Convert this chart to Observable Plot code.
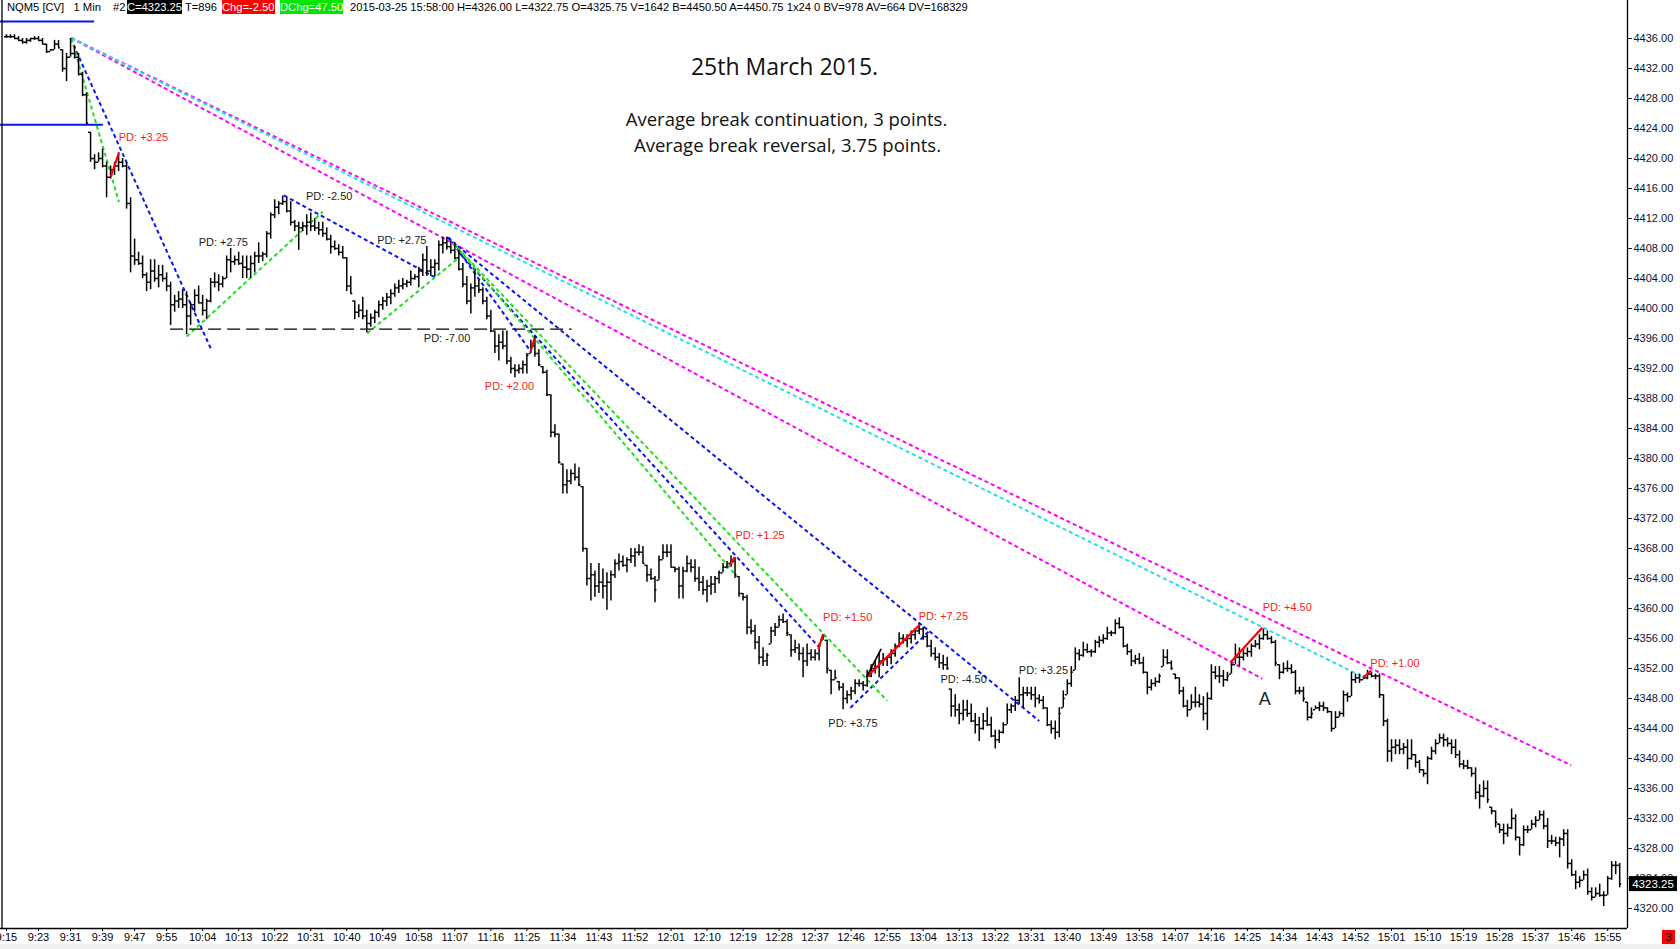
<!DOCTYPE html>
<html>
<head>
<meta charset="utf-8">
<script src="https://cdn.jsdelivr.net/npm/d3@7"></script>
<script src="https://cdn.jsdelivr.net/npm/@observablehq/plot@0.6"></script>
<style>
  html, body { margin: 0; padding: 0; background: #fff; }
  body { width: 1680px; height: 949px; overflow: hidden; position: relative; font-family: "Liberation Sans", Arial, sans-serif; }
  #chart { position: absolute; left: 0; top: 0; }
  #header { position: absolute; left: 0; top: 0; width: 1626px; height: 14px; font-size: 11.2px; line-height: 14px; color: #000; white-space: nowrap; }
  #header span { position: absolute; top: 0; height: 14px; }
  .blk { background: #000; color: #fff; }
  .red { background: #ff0000; color: #fff; }
  .grn { background: #00e600; color: #fff; }
  #strip { position: absolute; left: 0; top: 944px; width: 1680px; height: 5px; background: #f0f0f0; }
  #redbox { position: absolute; left: 1662px; top: 930px; width: 13px; height: 14px; background: #ff0000; color: #111; font-size: 11px; line-height: 14px; text-align: center; }
</style>
</head>
<body>
<div id="chart"></div>
<div id="header"></div>
<div id="strip"></div>
<div id="redbox">3</div>
<script>
// ---------- header texts ----------
const headerSymbol = "NQM5 [CV]\u00a0\u00a0 1 Min";
const headerBar = "#2";
const headerClose = "C=4323.25";
const headerTicks = "T=896";
const headerChg = "Chg=-2.50";
const headerDChg = "DChg=47.50";
const headerRest = "2015-03-25 15:58:00 H=4326.00 L=4322.75 O=4325.75 V=1642 B=4450.50 A=4450.75 1x24 0 BV=978 AV=664 DV=168329";

// ---------- titles ----------
const titleText = "25th March 2015.";
const subtitleLines = ["Average break continuation, 3 points.", "Average break reversal, 3.75 points."];

// ---------- axes ----------
const tickTimes = ["9:15","9:23","9:31","9:39","9:47","9:55","10:04","10:13","10:22","10:31","10:40","10:49","10:58","11:07","11:16","11:25","11:34","11:43","11:52","12:01","12:10","12:19","12:28","12:37","12:46","12:55","13:04","13:13","13:22","13:31","13:40","13:49","13:58","14:07","14:16","14:25","14:34","14:43","14:52","15:01","15:10","15:19","15:28","15:37","15:46","15:55"];
const priceTicks = [4320,4324,4328,4332,4336,4340,4344,4348,4352,4356,4360,4364,4368,4372,4376,4380,4384,4388,4392,4396,4400,4404,4408,4412,4416,4420,4424,4428,4432,4436];

// ---------- 1-minute OHLC bars, from 9:15 (index 0) to 15:58 ----------
const high = [
4436.5,4436.5,4436.5,4436.25,4436.0,4436.0,4436.0,4436.25,4436.25,4436.0,
4435.25,4434.5,4435.75,4435.75,4434.5,4434.0,4436.0,4435.0,4434.0,4431.5,
4428.75,4423.5,4420.5,4420.75,4421.25,4419.5,4419.0,4419.5,4420.75,4420.0,
4419.5,4414.75,4409.25,4407.5,4407.0,4404.75,4406.5,4406.5,4405.75,4405.75,
4404.75,4403.5,4401.75,4402.25,4402.5,4402.25,4400.75,4402.5,4403.0,4401.75,
4401.25,4404.0,4404.75,4404.5,4404.25,4407.0,4408.0,4407.0,4407.5,4407.0,
4407.0,4407.0,4407.5,4408.75,4407.5,4410.25,4412.75,4414.5,4414.25,4415.0,
4414.75,4414.25,4411.75,4411.5,4411.5,4412.5,4412.75,4412.0,4411.5,4411.5,
4410.75,4409.75,4409.0,4408.5,4408.25,4406.75,4404.25,4401.0,4400.5,4401.5,
4399.75,4399.25,4399.75,4401.0,4401.5,4402.0,4402.5,4403.25,4403.75,4404.0,
4403.75,4405.0,4404.5,4405.5,4407.25,4408.25,4406.5,4406.5,4409.0,4409.5,
4409.5,4409.0,4408.75,4407.75,4406.0,4404.25,4403.25,4405.0,4403.75,4402.75,
4401.5,4399.75,4397.0,4396.5,4397.0,4397.0,4393.5,4392.5,4392.5,4393.0,
4394.0,4395.75,4396.25,4394.5,4392.25,4391.75,4388.5,4384.5,4383.25,4379.25,
4378.5,4378.5,4379.25,4378.75,4376.25,4368.0,4366.0,4365.0,4366.0,4365.25,
4364.75,4365.0,4366.5,4367.25,4367.0,4366.75,4368.0,4368.0,4368.5,4368.25,
4365.75,4365.25,4364.25,4367.0,4368.5,4368.5,4368.5,4365.5,4365.5,4365.5,
4367.0,4366.5,4366.5,4365.5,4364.25,4363.75,4364.25,4364.25,4365.0,4366.0,
4366.25,4367.0,4366.75,4364.25,4362.0,4361.75,4358.5,4357.75,4356.25,4354.75,
4354.0,4357.5,4358.0,4359.0,4359.25,4358.5,4356.5,4355.75,4355.25,4354.75,
4355.25,4354.5,4354.5,4355.25,4356.5,4355.75,4351.75,4351.75,4350.25,4350.0,
4349.0,4349.5,4350.5,4350.5,4350.25,4351.75,4352.5,4353.0,4354.0,4354.0,
4353.5,4354.5,4355.25,4356.75,4356.5,4356.5,4357.0,4357.25,4358.0,4357.5,
4356.5,4355.75,4354.75,4354.0,4353.75,4353.5,4349.25,4348.5,4347.25,4347.75,
4347.75,4347.25,4346.0,4345.5,4346.0,4346.75,4345.5,4343.75,4343.75,4344.75,
4347.25,4347.25,4348.25,4350.75,4349.5,4349.5,4349.5,4349.5,4348.5,4348.25,
4346.75,4345.0,4345.0,4346.75,4349.0,4350.5,4352.25,4354.75,4354.5,4355.5,
4355.25,4354.5,4355.75,4356.25,4356.5,4357.5,4357.0,4358.5,4358.75,4357.5,
4355.25,4354.5,4353.75,4354.0,4353.5,4351.5,4350.5,4350.75,4351.25,4354.5,
4354.5,4353.0,4351.25,4350.75,4349.5,4347.75,4348.5,4349.5,4348.5,4348.25,
4348.75,4352.5,4352.25,4352.25,4351.75,4351.5,4353.0,4355.25,4354.75,4354.5,
4354.75,4355.25,4355.75,4356.5,4357.25,4357.0,4356.25,4355.75,4352.5,4352.75,
4353.0,4352.5,4351.75,4349.5,4349.5,4347.5,4346.75,4347.0,4347.5,4347.5,
4346.75,4346.25,4346.25,4346.25,4349.0,4348.75,4351.5,4351.25,4351.25,4351.0,
4351.75,4351.5,4351.25,4351.25,4348.5,4345.25,4342.5,4342.5,4342.5,4342.0,
4342.5,4342.5,4340.5,4339.75,4338.5,4340.25,4341.5,4342.5,4343.25,4343.25,
4342.75,4342.5,4342.5,4341.0,4339.75,4339.75,4338.75,4338.75,4336.5,4337.0,
4337.0,4333.5,4333.0,4331.25,4331.25,4331.25,4333.25,4332.5,4329.5,4331.0,
4331.0,4331.75,4332.25,4333.0,4333.0,4332.0,4329.75,4329.5,4329.5,4330.5,
4330.5,4326.5,4325.0,4324.25,4325.0,4325.25,4322.75,4322.75,4323.25,4322.25,
4324.25,4326.25,4326.25,4326.0
];
const low = [
4436.0,4436.0,4436.0,4435.75,4435.25,4435.25,4435.5,4435.75,4435.75,4435.25,
4434.0,4434.25,4434.5,4434.75,4431.5,4430.25,4433.5,4433.25,4431.0,4428.25,
4424.5,4419.5,4418.5,4419.5,4418.75,4414.75,4417.25,4417.75,4418.25,4418.75,
4413.25,4404.75,4405.75,4405.75,4404.0,4402.25,4402.5,4403.5,4402.75,4403.5,
4402.25,4397.75,4399.5,4400.0,4400.0,4396.5,4397.75,4399.5,4400.75,4399.0,
4398.5,4400.75,4402.75,4402.25,4402.75,4404.0,4404.75,4405.75,4405.75,4404.0,
4404.0,4404.0,4404.75,4406.0,4406.25,4406.75,4409.25,4412.0,4412.5,4413.75,
4412.75,4411.0,4410.25,4407.75,4410.25,4409.75,4410.25,4410.25,4409.75,4409.5,
4409.0,4407.25,4407.75,4407.0,4406.75,4402.25,4402.0,4398.5,4398.75,4398.5,
4396.75,4397.5,4398.0,4398.75,4399.75,4400.25,4400.5,4401.5,4402.0,4402.5,
4402.75,4403.0,4403.75,4402.75,4404.25,4404.25,4404.25,4404.25,4405.0,4407.25,
4407.75,4407.25,4406.5,4405.0,4402.75,4400.5,4399.25,4401.5,4402.0,4400.5,
4398.5,4396.75,4394.0,4393.0,4394.5,4392.5,4391.25,4390.75,4391.25,4391.25,
4391.25,4394.0,4393.5,4392.25,4391.25,4388.25,4382.75,4382.75,4379.25,4375.25,
4375.25,4376.5,4377.0,4376.25,4367.5,4363.0,4361.0,4361.5,4362.0,4361.25,
4359.75,4361.0,4364.0,4365.0,4365.5,4364.75,4366.0,4365.5,4367.0,4366.0,
4363.5,4363.75,4360.75,4363.75,4366.5,4366.75,4365.5,4364.75,4361.25,4361.25,
4364.75,4364.75,4363.5,4362.25,4361.75,4360.75,4361.75,4362.0,4363.25,4364.75,
4365.25,4365.5,4364.0,4361.5,4361.0,4356.5,4356.5,4354.5,4352.5,4352.25,
4352.25,4355.25,4356.25,4357.5,4358.0,4356.25,4353.5,4354.0,4353.0,4350.75,
4352.25,4353.0,4353.0,4353.0,4355.75,4351.25,4348.5,4350.5,4349.0,4346.5,
4347.25,4347.75,4348.5,4349.5,4349.0,4349.5,4350.75,4351.25,4350.75,4352.25,
4352.25,4352.5,4353.5,4354.75,4355.25,4354.75,4355.25,4355.75,4356.5,4355.75,
4354.75,4353.5,4353.0,4352.0,4351.75,4351.75,4345.5,4345.5,4344.5,4345.0,
4345.5,4344.75,4343.25,4342.25,4343.75,4344.25,4342.75,4341.25,4342.0,4343.25,
4344.5,4346.0,4346.25,4347.25,4346.75,4348.25,4347.75,4346.75,4347.25,4346.5,
4344.25,4343.25,4342.5,4342.75,4346.75,4348.5,4349.5,4351.75,4353.0,4353.5,
4354.0,4353.5,4354.0,4354.75,4355.25,4355.75,4356.25,4356.5,4357.25,4354.75,
4353.75,4352.25,4352.5,4352.5,4351.25,4348.5,4349.0,4349.5,4350.0,4352.25,
4352.5,4351.75,4350.5,4348.5,4346.75,4345.5,4346.5,4346.75,4346.75,4345.0,
4343.75,4347.75,4350.5,4350.0,4349.5,4350.25,4351.25,4352.5,4352.25,4353.0,
4353.5,4353.5,4354.75,4354.5,4355.75,4355.75,4355.25,4352.25,4350.5,4351.25,
4351.5,4351.25,4348.5,4348.5,4347.5,4345.0,4345.25,4346.5,4346.25,4346.25,
4346.0,4343.5,4344.0,4345.5,4345.5,4347.5,4348.25,4350.0,4350.0,4350.5,
4350.5,4350.75,4350.5,4348.0,4344.25,4339.5,4339.5,4340.5,4340.5,4340.5,
4338.5,4339.75,4338.75,4338.0,4337.5,4336.5,4339.75,4340.5,4342.0,4341.5,
4341.5,4340.5,4340.0,4338.75,4338.5,4338.5,4337.5,4334.5,4333.25,4334.75,
4334.0,4332.5,4330.75,4330.0,4328.5,4329.5,4330.5,4329.0,4327.0,4328.25,
4330.0,4330.5,4330.75,4331.75,4330.5,4328.0,4328.5,4328.25,4326.75,4328.25,
4325.25,4324.25,4322.5,4322.75,4323.75,4321.75,4321.0,4321.5,4321.5,4320.25,
4321.75,4323.75,4324.5,4322.75
];
const open = [
4436.25,4436.25,4436.25,4436.0,4435.75,4435.5,4435.75,4436.0,4436.0,4435.75,
4435.25,4434.25,4434.5,4435.25,4434.5,4432.0,4433.5,4434.0,4433.5,4431.25,
4428.5,4423.5,4420.0,4419.5,4420.0,4419.0,4417.5,4418.5,4419.0,4419.5,
4419.0,4414.0,4407.0,4406.5,4406.0,4404.5,4403.5,4405.0,4404.0,4404.5,
4404.0,4403.0,4400.5,4401.0,4401.25,4400.5,4399.0,4400.5,4401.75,4400.75,
4399.75,4401.0,4403.5,4403.5,4403.25,4404.0,4406.5,4406.25,4406.5,4406.0,
4405.5,4405.25,4406.0,4407.0,4407.0,4407.25,4410.0,4412.5,4413.5,4414.0,
4414.25,4413.0,4411.5,4411.0,4410.75,4411.0,4411.5,4411.0,4410.75,4410.5,
4410.0,4409.25,4408.25,4408.0,4407.5,4406.75,4403.0,4401.0,4399.5,4399.75,
4399.0,4398.0,4398.75,4399.5,4400.5,4401.0,4401.5,4402.0,4402.75,4403.0,
4403.25,4403.5,4404.0,4404.25,4405.0,4406.5,4405.0,4405.5,4406.0,4408.5,
4408.75,4408.25,4407.75,4406.75,4405.25,4403.25,4401.0,4402.75,4403.0,4402.5,
4401.0,4399.0,4397.0,4395.0,4395.5,4395.0,4393.0,4392.0,4391.75,4392.0,
4392.5,4394.0,4395.0,4394.0,4392.25,4391.5,4388.5,4383.5,4383.25,4379.25,
4376.5,4377.0,4378.0,4377.5,4376.25,4368.0,4364.0,4364.5,4363.0,4363.5,
4363.0,4363.5,4364.5,4366.0,4366.25,4365.75,4366.5,4367.0,4367.5,4367.5,
4365.75,4364.5,4364.0,4363.75,4366.5,4367.5,4367.5,4365.5,4365.25,4363.0,
4365.0,4366.0,4365.5,4364.0,4363.5,4362.5,4363.0,4363.25,4364.0,4364.75,
4365.5,4366.0,4366.25,4364.25,4362.0,4361.5,4357.5,4357.0,4355.5,4353.5,
4353.0,4355.25,4357.0,4357.5,4358.5,4358.25,4356.5,4354.5,4354.75,4354.0,
4353.0,4354.0,4353.5,4354.0,4355.75,4355.75,4351.75,4350.5,4350.25,4349.5,
4348.0,4348.5,4349.0,4350.0,4350.0,4349.75,4351.0,4352.0,4352.25,4353.0,
4353.25,4353.5,4354.0,4355.0,4356.0,4355.75,4356.0,4356.5,4357.0,4357.25,
4356.25,4355.0,4354.0,4353.5,4352.75,4352.5,4349.25,4347.0,4346.5,4346.0,
4346.5,4346.0,4345.0,4344.5,4344.0,4345.0,4344.5,4343.0,4342.5,4343.5,
4344.5,4346.5,4347.0,4347.75,4348.5,4348.75,4348.75,4348.5,4348.0,4347.75,
4346.75,4344.5,4344.0,4343.5,4346.75,4348.5,4350.0,4351.75,4354.0,4353.75,
4354.5,4354.25,4354.25,4355.5,4355.75,4356.0,4356.75,4356.75,4358.0,4357.5,
4355.0,4354.25,4353.0,4353.25,4352.75,4351.5,4349.5,4350.0,4350.25,4352.25,
4353.5,4352.75,4351.25,4350.75,4349.0,4347.0,4346.5,4347.5,4347.5,4347.25,
4346.0,4348.0,4351.5,4351.0,4351.0,4350.5,4351.25,4352.5,4353.5,4353.5,
4354.0,4354.25,4355.0,4355.25,4356.0,4356.5,4356.0,4355.5,4352.5,4351.5,
4352.0,4352.0,4351.5,4349.0,4349.0,4347.5,4345.5,4346.5,4346.75,4347.0,
4346.75,4346.25,4344.0,4345.5,4346.0,4348.5,4348.25,4350.5,4350.75,4350.5,
4350.75,4351.25,4351.0,4351.0,4348.5,4345.0,4341.0,4341.5,4341.75,4341.25,
4341.5,4340.0,4340.5,4339.5,4338.5,4338.0,4340.0,4341.0,4342.0,4342.75,
4342.5,4342.0,4341.5,4340.5,4339.25,4339.0,4338.75,4338.0,4335.5,4335.0,
4336.0,4333.5,4333.0,4331.25,4330.5,4330.0,4330.75,4332.0,4329.5,4328.5,
4330.5,4330.5,4331.25,4331.75,4332.5,4331.0,4329.0,4329.0,4328.75,4329.25,
4330.0,4326.0,4324.5,4323.5,4323.75,4324.5,4322.25,4321.5,4322.0,4321.75,
4321.75,4324.0,4325.75,4325.75
];
const close = [
4436.25,4436.25,4436.0,4435.75,4435.5,4435.75,4436.0,4436.0,4435.75,4435.25,
4434.25,4434.5,4435.25,4434.75,4432.0,4433.5,4434.0,4433.5,4431.25,4428.5,
4424.75,4420.0,4419.5,4420.0,4419.0,4417.5,4418.5,4419.0,4419.5,4419.0,
4414.0,4407.0,4406.5,4406.0,4404.5,4403.5,4405.0,4404.0,4404.5,4404.0,
4403.0,4400.5,4401.0,4401.25,4400.5,4399.0,4400.5,4401.75,4400.75,4399.75,
4401.0,4403.5,4403.5,4403.25,4404.0,4406.5,4406.25,4406.5,4406.0,4405.5,
4405.25,4406.0,4407.0,4407.0,4407.25,4410.0,4412.5,4413.5,4414.0,4414.25,
4413.0,4411.5,4411.0,4410.75,4411.0,4411.5,4411.0,4410.75,4410.5,4410.0,
4409.25,4408.25,4408.0,4407.5,4406.75,4403.0,4402.0,4399.5,4399.75,4399.0,
4398.0,4398.75,4399.5,4400.5,4401.0,4401.5,4402.0,4402.75,4403.0,4403.25,
4403.5,4404.0,4404.25,4405.0,4406.5,4405.0,4405.5,4406.0,4408.5,4408.75,
4408.25,4407.75,4406.75,4405.25,4403.25,4401.0,4402.75,4403.0,4402.5,4401.0,
4399.0,4397.0,4395.0,4395.5,4395.0,4393.0,4392.0,4391.75,4392.0,4392.5,
4393.75,4395.0,4394.0,4392.5,4391.5,4388.5,4383.5,4383.25,4379.5,4376.5,
4377.0,4378.0,4377.5,4376.5,4368.0,4364.0,4364.5,4363.0,4363.5,4363.0,
4363.5,4364.5,4366.0,4366.25,4365.75,4366.5,4367.0,4367.5,4367.5,4366.0,
4364.5,4364.0,4362.5,4366.5,4367.5,4367.5,4365.5,4365.25,4363.0,4365.0,
4366.0,4365.5,4364.0,4363.5,4362.5,4363.0,4363.25,4364.0,4364.75,4365.5,
4366.0,4366.25,4364.5,4362.0,4361.5,4357.5,4357.0,4355.5,4353.5,4353.0,
4353.75,4357.0,4357.5,4358.5,4358.25,4356.75,4354.5,4354.75,4354.0,4353.0,
4354.0,4353.5,4354.0,4355.0,4356.25,4352.0,4350.5,4350.75,4349.5,4348.0,
4348.5,4349.0,4350.0,4350.0,4349.75,4351.0,4352.0,4352.25,4353.0,4353.25,
4353.5,4354.0,4355.0,4356.0,4355.75,4356.0,4356.5,4357.0,4357.25,4356.25,
4355.0,4354.0,4353.5,4352.75,4352.5,4352.0,4347.0,4346.5,4346.0,4346.5,
4346.0,4345.0,4344.5,4344.0,4345.0,4344.5,4343.0,4342.5,4343.5,4344.5,
4346.5,4347.0,4347.75,4348.5,4348.75,4348.75,4348.5,4348.0,4347.75,4346.75,
4344.5,4344.0,4343.5,4346.0,4348.0,4350.0,4351.5,4354.0,4353.75,4354.5,
4354.25,4354.25,4355.5,4355.75,4356.0,4356.75,4356.75,4358.0,4357.5,4355.0,
4354.25,4353.0,4353.25,4352.75,4351.5,4349.5,4350.0,4350.25,4351.0,4353.5,
4352.75,4352.0,4350.75,4349.0,4347.0,4346.5,4347.5,4347.5,4347.25,4346.0,
4348.0,4351.5,4351.0,4351.0,4350.5,4351.0,4352.5,4353.5,4353.5,4354.0,
4354.25,4355.0,4355.25,4356.0,4356.5,4356.0,4355.5,4352.75,4351.5,4352.0,
4352.0,4351.5,4349.0,4349.0,4348.0,4345.5,4346.0,4346.75,4347.0,4346.75,
4346.25,4344.0,4345.5,4346.0,4348.5,4348.25,4350.5,4350.75,4350.5,4350.75,
4351.25,4351.0,4351.0,4348.5,4345.0,4341.0,4341.5,4341.75,4341.25,4341.5,
4340.0,4340.5,4339.5,4338.5,4338.0,4340.0,4341.0,4342.0,4342.75,4342.5,
4342.0,4341.5,4340.5,4339.25,4339.0,4338.75,4338.0,4335.5,4335.0,4336.0,
4334.5,4333.0,4331.5,4330.5,4330.0,4330.75,4332.0,4329.5,4328.5,4330.5,
4330.5,4331.25,4331.75,4332.5,4331.0,4329.0,4329.0,4328.75,4329.25,4330.0,
4326.0,4324.5,4323.5,4323.75,4324.5,4322.25,4321.5,4322.0,4321.75,4321.75,
4324.0,4325.75,4325.75,4323.25
];

// ---------- drawn annotations, in (bar index, price) ----------
const magentaLines = [[16.2,4436.07,390.9,4339.07],[16.2,4436.07,313.7,4350.63]];
const cyanLines = [[16.2,4436.07,339.0,4350.84]];
const blueDashLines = [
  [16.0,4436.0,51.0,4394.7],
  [69.3,4415.07,107.2,4404.1],
  [110.0,4409.5,258.0,4345.0],
  [113.0,4407.5,203.0,4354.84],
  [110.5,4409.5,131.0,4394.25],
  [210.8,4346.75,230.5,4357.0]
];
const greenDashLines = [
  [16.2,4436.0,28.1,4414.2],
  [45.0,4396.25,79.0,4412.9],
  [90.1,4396.7,112.6,4406.6],
  [111.5,4408.75,220.0,4347.7],
  [112.0,4408.5,181.7,4364.75]
];
const redLines = [
  [26.0,4417.5,28.1,4420.8],
  [130.9,4394.2,131.9,4396.0],
  [180.7,4365.7,181.9,4366.85],
  [202.8,4354.6,204.0,4356.6],
  [215.0,4350.93,228.2,4357.87],
  [305.8,4352.84,313.7,4357.43],
  [338.9,4350.76,340.9,4351.73]
];
const blackLines = [[214.8,4350.8,218.5,4354.6]];
const dashedLevel = [[41.0,141.3,4397.25]];
const blueLevels = [[-1.5,24.2,4424.5],[-1.5,22.0,4438.25]];

const pdText = ["PD: +3.25","PD: +2.75","PD: -2.50","PD: +2.75","PD: -7.00","PD: +2.00","PD: +1.25","PD: +1.50","PD: +7.25","PD: +3.75","PD: -4.50","PD: +3.25","PD: +4.50","PD: +1.00"];
const pdX = [28.05,48.0,74.8,92.6,104.25,119.5,182.1,204.0,227.9,205.3,233.3,252.9,313.8,340.7];
const pdY = [4422.84,4408.8,4414.93,4409.07,4396.04,4389.6,4369.73,4358.84,4358.97,4344.7,4350.5,4351.73,4360.2,4352.7];
const pdKind = ["red","dark","dark","dark","dark","red","red","red","red","dark","dark","dark","red","red"];
const markLetter = [{text: "A", x: 314.3, y: 4347.9}];

// ---------- build ----------
const n = Math.min(high.length, low.length, open.length, close.length);
const bars = d3.range(n).map(i => ({i, high: high[i], low: low[i], open: open[i], close: close[i]}));
const toIdx = t => { const [h, m] = t.split(":").map(Number); return h * 60 + m - (9 * 60 + 15); };
const tickIdx = tickTimes.map(toIdx);
const tickLabel = new Map(tickIdx.map((d, k) => [d, tickTimes[k]]));
const seg = arr => arr.map(([x1, y1, x2, y2]) => ({x1, y1, x2, y2}));
const pd = pdText.map((t, k) => ({t, x: pdX[k], y: pdY[k], kind: pdKind[k]}));

const xDomain = [-1.5, 404.95];
const yDomain = [4317.33, 4439.2];
const lineFont = "Liberation Sans, Arial, sans-serif";

const chart = Plot.plot({
  width: 1680, height: 949,
  marginLeft: 0, marginRight: 53, marginTop: 14, marginBottom: 21,
  x: {domain: xDomain, axis: null},
  y: {domain: yDomain, axis: null},
  style: {fontFamily: lineFont, fontSize: "11px", background: "#fff", color: "#000", overflow: "visible"},
  marks: [
    // trend lines
    Plot.link(seg(magentaLines), {x1: "x1", y1: "y1", x2: "x2", y2: "y2", stroke: "#ff00ff", strokeWidth: 2, strokeDasharray: "4,3"}),
    Plot.link(seg(cyanLines), {x1: "x1", y1: "y1", x2: "x2", y2: "y2", stroke: "#22e0e8", strokeWidth: 2, strokeDasharray: "4,3"}),
    Plot.link(seg(blueDashLines), {x1: "x1", y1: "y1", x2: "x2", y2: "y2", stroke: "#0a14f0", strokeWidth: 2, strokeDasharray: "4,3"}),
    Plot.link(seg(greenDashLines), {x1: "x1", y1: "y1", x2: "x2", y2: "y2", stroke: "#1ee01e", strokeWidth: 2, strokeDasharray: "4,3"}),
    Plot.ruleY(dashedLevel.map(([x1, x2, y]) => ({x1, x2, y})), {x1: "x1", x2: "x2", y: "y", stroke: "#000", strokeWidth: 1.2, strokeDasharray: "13,6"}),
    Plot.ruleY(blueLevels.map(([x1, x2, y]) => ({x1, x2, y})), {x1: "x1", x2: "x2", y: "y", stroke: "#0a14f0", strokeWidth: 2}),
    // OHLC bars
    Plot.ruleX(bars, {x: "i", y1: "low", y2: "high", stroke: "#000", strokeWidth: 1.5}),
    Plot.ruleY(bars, {y: "open", x1: d => d.i - 0.5, x2: "i", stroke: "#000", strokeWidth: 1.5}),
    Plot.ruleY(bars, {y: "close", x1: "i", x2: d => d.i + 0.5, stroke: "#000", strokeWidth: 1.5}),
    // red break segments & black segment
    Plot.link(seg(redLines), {x1: "x1", y1: "y1", x2: "x2", y2: "y2", stroke: "#ff0000", strokeWidth: 2.2}),
    Plot.link(seg(blackLines), {x1: "x1", y1: "y1", x2: "x2", y2: "y2", stroke: "#000", strokeWidth: 1.6}),
    // labels
    Plot.text(pd, {x: "x", y: "y", text: "t", textAnchor: "start", lineAnchor: "middle", fontSize: 11, fill: d => d.kind === "red" ? "#ff1a1a" : "#1a1a1a"}),
    Plot.text(markLetter, {x: "x", y: "y", text: "text", textAnchor: "middle", lineAnchor: "middle", fontSize: 18, fill: "#222"}),
    // titles
    Plot.text([titleText], {frameAnchor: "top-left", dx: 784, dy: 53.5, textAnchor: "middle", lineAnchor: "middle", fontSize: 23, fontFamily: "Open Sans", fill: "#111"}),
    Plot.text([subtitleLines[0]], {frameAnchor: "top-left", dx: 786, dy: 106, textAnchor: "middle", lineAnchor: "middle", fontSize: 18.5, fontFamily: "Open Sans", fill: "#111"}),
    Plot.text([subtitleLines[1]], {frameAnchor: "top-left", dx: 787, dy: 131.5, textAnchor: "middle", lineAnchor: "middle", fontSize: 18.5, fontFamily: "Open Sans", fill: "#111"}),
    // frame lines
    Plot.ruleX([xDomain[1]], {stroke: "#000", strokeWidth: 1.3, insetTop: -14}),
    Plot.ruleX([xDomain[0]], {stroke: "#000", strokeWidth: 1.3, insetTop: -14, dx: 1.5}),
    Plot.ruleY([yDomain[0]], {stroke: "#000", strokeWidth: 1.3}),
    // axes
    Plot.axisX({ticks: tickIdx, tickFormat: d => tickLabel.get(d), anchor: "bottom", tickSize: 3, tickPadding: 2, fontSize: 11, color: "#000"}),
    Plot.axisY({ticks: priceTicks, tickFormat: d => d.toFixed(2), anchor: "right", tickSize: 4, tickPadding: 2, fontSize: 11, color: "#111133"})
  ]
});
document.getElementById("chart").append(chart);

// current price marker on the right axis
const lastPrice = close[n - 1];
const sy = chart.scale("y");
const py = sy.apply(lastPrice);
const g = d3.select(chart).append("g");
g.append("rect").attr("x", 1629).attr("y", py - 7.5).attr("width", 48).attr("height", 15).attr("fill", "#000");
g.append("text").attr("x", 1653).attr("y", py).attr("text-anchor", "middle").attr("dominant-baseline", "central")
  .attr("fill", "#fff").attr("font-size", 11.5).text(lastPrice.toFixed(2));

// header line
const header = document.getElementById("header");
const parts = [
  [headerSymbol, 7, ""],
  [headerBar, 113, ""],
  [headerClose, 127, "blk"],
  [headerTicks, 185, ""],
  [headerChg, 222, "red"],
  [headerDChg, 280, "grn"],
  [headerRest, 350, ""]
];
for (const [t, left, cls] of parts) {
  const s = document.createElement("span");
  s.textContent = t;
  s.style.left = left + "px";
  if (cls) s.className = cls;
  header.append(s);
}
</script>
</body>
</html>
